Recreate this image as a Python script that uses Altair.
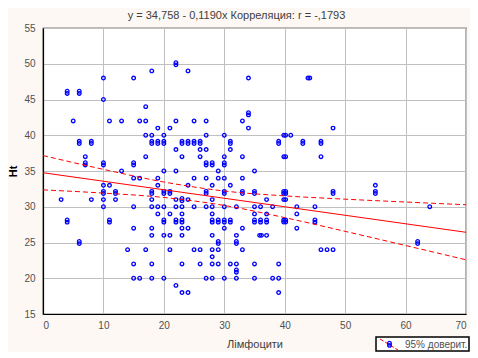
import altair as alt
import pandas as pd

# ---- data ----
# single markers
single_x = [18, 24, 10, 15, 34, 10, 17,
            5, 11, 13, 16, 17, 22, 25, 27, 33,
            19, 21, 34, 48,
            17, 18, 20, 27, 30, 41,
            22, 26, 27, 31,
            7, 17, 23, 26, 30, 33, 46,
            13, 20, 22, 29, 35,
            15, 16, 19, 25, 27, 29, 30, 33,
            10, 11, 19, 24, 28, 31, 55,
            3, 8, 10, 12, 18, 22, 24, 28, 37,
            10, 15, 18, 19, 20, 22, 23, 25, 27, 28, 30, 32, 35, 36, 38, 42, 45, 64,
            19, 21, 23, 28, 35, 37, 42,
            15, 18, 23, 24, 30, 33, 42,
            18, 20, 21, 23, 28, 32, 37,
            14, 17, 21, 25, 26, 28, 29, 33, 46, 47, 48,
            28,
            15, 18, 23, 26, 28, 29, 31, 32, 35, 39,
            15, 16, 18, 20, 27, 28, 30, 32, 35, 38, 39,
            22,
            23, 24, 39]
single_y = [49, 49, 48, 48, 48, 45, 44,
            42, 42, 42, 42, 42, 42, 42, 42, 42,
            41, 41, 41, 41,
            40, 40, 40, 40, 40, 40,
            38, 38, 38, 38,
            37, 37, 37, 37, 37, 37, 37,
            35, 35, 35, 35, 35,
            34, 34, 34, 34, 34, 34, 34, 34,
            33, 33, 33, 33, 33, 33, 33,
            31, 31, 31, 31, 31, 31, 31, 31, 31,
            30, 30, 30, 30, 30, 30, 30, 30, 30, 30, 30, 30, 30, 30, 30, 30, 30, 30,
            29, 29, 29, 29, 29, 29, 29,
            27, 27, 27, 27, 27, 27, 27,
            26, 26, 26, 26, 26, 26, 26,
            24, 24, 24, 24, 24, 24, 24, 24, 24, 24, 24,
            23,
            22, 22, 22, 22, 22, 22, 22, 22, 22, 22,
            20, 20, 20, 20, 20, 20, 20, 20, 20, 20, 20,
            19,
            18, 18, 18]

# markers drawn twice, slightly apart vertically ("0" shape)
vdouble_x = [22, 4, 6, 34,
             6, 8, 18, 19, 20, 23, 24, 25, 26, 31, 39, 43, 46,
             7, 10, 15, 27, 28, 30,
             10, 12, 18, 20, 21, 27, 30, 33, 35, 48, 55,
             23,
             4, 11, 20, 22, 23, 28, 29, 30, 31, 35, 36, 37, 45,
             6, 29, 32, 62,
             32]
vdouble_y = [50, 46, 46, 43,
             39, 39, 39, 39, 39, 39, 39, 39, 39, 39, 39, 39, 39,
             36, 36, 36, 36, 36, 36,
             32, 32, 32, 32, 32, 32, 32, 32, 32, 32, 32,
             31,
             28, 28, 28, 28, 28, 28, 28, 28, 28, 28, 28, 28, 28,
             25, 25, 25, 25,
             21]

# markers drawn twice, slightly apart horizontally
hdouble_x = [44, 40, 40, 40, 36]
hdouble_y = [48, 40, 37, 31, 26]

# heavily overlapped markers
quad_x = [40, 40]
quad_y = [32, 28]

# regression line and 95% confidence band
fit_x = [0, 70]
fit_y = [34.758, 26.428]
band_x = [0, 10, 20, 30, 40, 50, 60, 70]
band_upper = [37.16, 35.23, 33.46, 32.20, 31.52, 31.06, 30.66, 30.28]
band_lower = [32.36, 31.91, 31.30, 30.18, 28.48, 26.56, 24.58, 22.58]

x_ticks = [0, 10, 20, 30, 40, 50, 60, 70]
y_ticks = [15, 20, 25, 30, 35, 40, 45, 50, 55]

title_text = "y = 34,758 - 0,1190x  Корреляция: r = -,1793"
x_title = "Лімфоцити"
y_title = "Ht"
legend_text = "95% доверит."

# ---- chart ----
BLUE = "#0000FF"
RED = "#FF0000"
FONT = "Liberation Sans"

xs = alt.Scale(domain=[0, 70], nice=False, zero=False)
ys = alt.Scale(domain=[15, 55], nice=False, zero=False)

x_axis = alt.Axis(values=x_ticks, title=x_title, grid=True, labelOverlap=False)
y_axis = alt.Axis(values=y_ticks, title=y_title, grid=True, labelOverlap=False)

X = lambda f: alt.X(f, type="quantitative", scale=xs, axis=x_axis)
Y = lambda f: alt.Y(f, type="quantitative", scale=ys, axis=y_axis)

def pts(xv, yv, dx=0, dy=0):
    df = pd.DataFrame({"x": xv, "y": yv})
    return alt.Chart(df).mark_point(
        shape="circle", filled=False, color=BLUE, size=13, strokeWidth=1.3,
        opacity=1, xOffset=dx, yOffset=dy
    ).encode(x=X("x"), y=Y("y"))

layers = [pts(single_x, single_y)]
layers += [pts(vdouble_x, vdouble_y, dy=-1.1), pts(vdouble_x, vdouble_y, dy=1.1)]
layers += [pts(hdouble_x, hdouble_y, dx=-0.9), pts(hdouble_x, hdouble_y, dx=0.9)]
for ddx in (-1.0, 1.0):
    for ddy in (-1.0, 1.0):
        layers.append(pts(quad_x, quad_y, dx=ddx, dy=ddy))

fit_df = pd.DataFrame({"x": fit_x, "y": fit_y})
fit = alt.Chart(fit_df).mark_line(color=RED, strokeWidth=1).encode(x=X("x"), y=Y("y"))
band_df = pd.DataFrame({"x": band_x, "up": band_upper, "lo": band_lower})
up = alt.Chart(band_df).mark_line(color=RED, strokeWidth=1, strokeDash=[5, 3],
                                  interpolate="monotone").encode(x=X("x"), y=Y("up"))
lo = alt.Chart(band_df).mark_line(color=RED, strokeWidth=1, strokeDash=[5, 3],
                                  interpolate="monotone").encode(x=X("x"), y=Y("lo"))

# legend box (drawn in pixel space under the plot)
one = pd.DataFrame({"a": [0]})
leg_box = alt.Chart(one).mark_rect(fill="white", stroke="black", strokeWidth=1.5).encode(
    x=alt.value(333), x2=alt.value(426), y=alt.value(309), y2=alt.value(323)
)
leg_line = alt.Chart(one).mark_rule(color=RED, strokeWidth=1, strokeDash=[4, 2]).encode(
    x=alt.value(337), y=alt.value(311), x2=alt.value(355), y2=alt.value(322)
)
leg_pt1 = alt.Chart(one).mark_point(shape="circle", filled=False, color=BLUE, size=13,
                                    strokeWidth=1.3, opacity=1).encode(
    x=alt.value(346.5), y=alt.value(315.2))
leg_pt2 = alt.Chart(one).mark_point(shape="circle", filled=False, color=BLUE, size=13,
                                    strokeWidth=1.3, opacity=1).encode(
    x=alt.value(346.5), y=alt.value(317.4))
leg_txt = alt.Chart(one).mark_text(text=legend_text, align="left", baseline="middle",
                                   font=FONT, fontSize=10, color="#505050").encode(
    x=alt.value(362), y=alt.value(316.5))

chart = alt.layer(
    *layers, up, lo, fit, leg_box, leg_line, leg_pt1, leg_pt2, leg_txt
).properties(
    width=423, height=286,
    title=alt.TitleParams(title_text, font=FONT, fontSize=11, fontWeight="normal",
                          color="#404040", dx=-18, offset=2),
    autosize=alt.AutoSizeParams(type="none"),
    padding={"left": 35, "top": 20, "right": 4, "bottom": 38},
    background="#FDF8F3",
).configure_view(
    fill="white", stroke="black", strokeWidth=1.2
).configure_axis(
    labelFont=FONT, labelFontSize=10, labelColor="#505050",
    titleFont=FONT, gridColor="#C0C0C0", gridWidth=1,
    domainColor="black", domainWidth=1.2, ticks=False, labelOverlap=False,
).configure_axisX(
    labelPadding=6, titleFontSize=11, titleFontWeight="normal", titleColor="#404040",
    titlePadding=8,
).configure_axisY(
    labelPadding=8, titleFontSize=11, titleFontWeight="bold", titleColor="black",
    titlePadding=5,
)

chart.save("out.html", embed_options={"renderer": "svg", "actions": False})
